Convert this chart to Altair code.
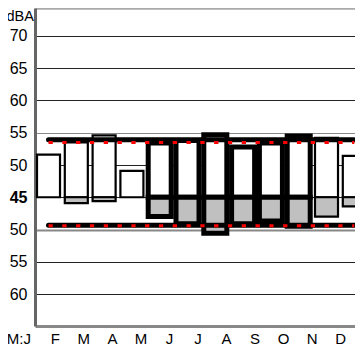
import altair as alt
import pandas as pd

# ---- data ----
months = ["J", "F", "M", "A", "M", "J", "J", "A", "S", "O", "N", "D"]
x_labels = ["M:J", "F", "M", "A", "M", "J", "J", "A", "S", "O", "N", "D"]
upper = [51.6, 53.5, 54.6, 49.1, 53.4, 53.8, 54.7, 52.8, 53.4, 54.5, 54.2, 51.4]
lower = [45.0, 44.1, 44.4, 45.0, 42.0, 40.9, 39.4, 40.9, 41.3, 40.5, 42.0, 43.6]
thick = [0, 0, 0, 0, 1, 1, 1, 1, 1, 1, 0, 0]
ref_black = [53.9, 40.65]
ref_red = [53.5, 40.6]
y_ticks = [30, 35, 40, 45, 50, 55, 60, 65, 70]
CENTER = 45

FONT = "Liberation Sans"

df = pd.DataFrame({"i": list(range(len(months))), "month": months,
                   "upper": upper, "lower": lower, "thick": thick})
df_ref_b = pd.DataFrame({"y": ref_black, "start": 0, "end": len(months) - 1})
df_ref_r = pd.DataFrame({"y": ref_red, "start": 0, "end": len(months) - 1})
df_lab = pd.DataFrame({"k": list(range(len(x_labels))), "lab": x_labels})

W, H = 320, 318
xscale = alt.Scale(domain=[-0.486, 11.025], nice=False, zero=False)
yscale = alt.Scale(domain=[25.04, 74.34], nice=False, zero=False)
lscale = alt.Scale(domain=[0.287, 11.503], nice=False, zero=False)

yaxis = alt.Axis(
    values=y_ticks,
    labelExpr="datum.value >= 45 ? datum.value : 90 - datum.value",
    labelOverlap=False,
    title="dBA", titleAngle=0, titleAlign="left", titleBaseline="alphabetic",
    titleX=-29, titleY=12, titleFontSize=14.5, titleFontWeight="normal",
    titleFont=FONT, titleColor="black",
    labelFont=FONT, labelFontSize=16, labelColor="black",
    labelFontWeight=alt.condition("datum.value == 45", alt.value("bold"), alt.value("normal")),
    labelPadding=8, ticks=False, tickSize=0,
    domainColor="#666", domainWidth=3,
    grid=True,
    gridColor=alt.condition("datum.value == 40 || datum.value == 55", alt.value("#888"), alt.value("#222")),
    gridWidth=alt.condition("datum.value == 40", alt.value(2), alt.value(1)),
    gridOpacity=1,
)
xaxis_bottom = alt.Axis(orient="bottom", labels=False, ticks=False, grid=False,
                        title=None, domainColor="#888", domainWidth=3)
xaxis_top = alt.Axis(orient="top", labels=False, ticks=False, grid=False,
                     title=None, domainColor="#aaa", domainWidth=2.5)

base = alt.Chart(df).transform_calculate(
    x1="datum.i - 0.414", x2="datum.i + 0.414", base=str(CENTER),
    sw="datum.thick ? 5 : 2.2")

upper_rect = base.mark_rect(fill="white", stroke="black", clip=True).encode(
    x=alt.X("x1:Q", scale=xscale, axis=xaxis_bottom), x2="x2:Q",
    y=alt.Y("upper:Q", scale=yscale, axis=yaxis), y2="base:Q",
    strokeWidth=alt.StrokeWidth("sw:Q", scale=None, legend=None),
)

lower_rect = base.transform_filter("datum.lower < 45").mark_rect(
    fill="#c0c0c0", stroke="black", clip=True).encode(
    x=alt.X("x1:Q", scale=xscale, axis=xaxis_bottom), x2="x2:Q",
    y=alt.Y("lower:Q", scale=yscale, axis=yaxis), y2="base:Q",
    strokeWidth=alt.StrokeWidth("sw:Q", scale=None, legend=None),
)

black_rule = alt.Chart(df_ref_b).mark_rule(
    color="black", strokeWidth=5, strokeCap="round").encode(
    x=alt.X("start:Q", scale=xscale, axis=xaxis_bottom), x2="end:Q",
    y=alt.Y("y:Q", scale=yscale, axis=yaxis),
)

red_rule = alt.Chart(df_ref_r).mark_rule(
    color="#ff0000", strokeWidth=3, strokeDash=[4.3, 9.5]).encode(
    x=alt.X("start:Q", scale=xscale, axis=xaxis_bottom), x2="end:Q",
    y=alt.Y("y:Q", scale=yscale, axis=yaxis),
)

main = alt.layer(upper_rect, lower_rect, black_rule, red_rule)

lab_first = alt.Chart(df_lab).transform_filter("datum.k == 0").mark_text(
    font=FONT, fontSize=15, color="black", baseline="middle", align="center", dx=-8).encode(
    x=alt.X("k:Q", scale=lscale, axis=xaxis_top),
    y=alt.value(331),
    text="lab:N",
)
lab_rest = alt.Chart(df_lab).transform_filter("datum.k > 0").mark_text(
    font=FONT, fontSize=15, color="black", baseline="middle", align="center").encode(
    x=alt.X("k:Q", scale=lscale, axis=xaxis_top),
    y=alt.value(331),
    text="lab:N",
)
labels = alt.layer(lab_first, lab_rest)

chart = alt.layer(main, labels).resolve_scale(x="independent").properties(
    width=W, height=H,
    autosize=alt.AutoSizeParams(type="none"),
    padding={"left": 27, "top": 0, "right": 0, "bottom": 25},
).configure(font=FONT).configure_view(stroke=None)

chart.save("out.html", embed_options={"renderer": "svg", "actions": False})
